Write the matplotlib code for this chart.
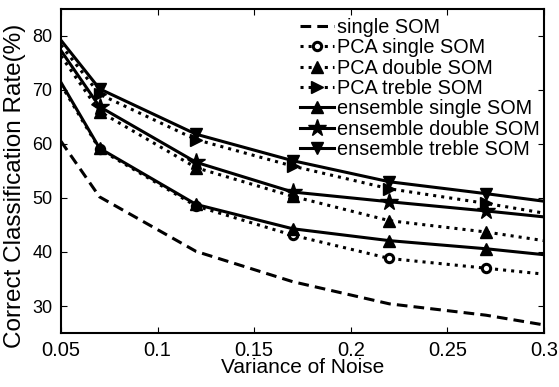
import matplotlib
matplotlib.use("Agg")
import matplotlib.pyplot as plt

plt.rcParams['font.family'] = ['Liberation Sans', 'DejaVu Sans']

# noise variance levels
x = [0.05, 0.07, 0.12, 0.17, 0.22, 0.27, 0.3]

single_som = [60.5, 50.2, 40.1, 34.5, 30.4, 28.3, 26.5]
pca_single = [71.0, 59.0, 48.5, 43.1, 38.8, 37.0, 35.9]
pca_double = [76.3, 66.0, 55.6, 50.3, 45.8, 43.7, 42.1]
pca_treble = [78.3, 69.2, 60.8, 55.9, 51.7, 49.0, 47.2]
ens_single = [71.4, 59.2, 48.8, 44.3, 42.1, 40.6, 39.5]
ens_double = [77.3, 66.9, 56.6, 51.1, 49.3, 47.6, 46.5]
ens_treble = [79.2, 70.2, 61.8, 56.9, 53.0, 50.8, 49.4]

fig = plt.figure(figsize=(5.59, 3.87), dpi=100)
ax = fig.add_axes([0.109, 0.1395, 0.864, 0.8375])

lw = 2.2
mk = dict(markevery=[1, 2, 3, 4, 5], color="black", linewidth=lw)
ax.plot(x, single_som, "--", color="black", linewidth=lw, dashes=(3.5, 2), label="single SOM")
ax.plot(x, pca_single, ":", marker="o", markersize=6, markerfacecolor="white",
        markeredgewidth=2.2, label="PCA single SOM", **mk)
ax.plot(x, pca_double, ":", marker="^", markersize=8, label="PCA double SOM", **mk)
ax.plot(x, pca_treble, ":", marker=">", markersize=9, label="PCA treble SOM", **mk)
ax.plot(x, ens_single, "-", marker="^", markersize=9, label="ensemble single SOM", **mk)
ax.plot(x, ens_double, "-", marker="*", markersize=13, label="ensemble double SOM", **mk)
ax.plot(x, ens_treble, "-", marker="v", markersize=9, label="ensemble treble SOM", **mk)

ax.set_xlim(0.05, 0.3)
ax.set_ylim(25, 85)
ax.set_xticks([0.05, 0.1, 0.15, 0.2, 0.25, 0.3])
ax.set_xticklabels(["0.05", "0.1", "0.15", "0.2", "0.25", "0.3"])
ax.set_yticks([30, 40, 50, 60, 70, 80])
ax.tick_params(direction="in", top=True, right=True, length=4, width=0.8)
ax.tick_params(axis="x", labelsize=14.5, pad=5.5)
ax.tick_params(axis="y", labelsize=13, pad=6)
for s in ax.spines.values():
    s.set_linewidth(1.5)

ax.set_xlabel("Variance of Noise", fontsize=15, labelpad=-1)
ax.set_ylabel("Correct Classification Rate(%)", fontsize=17.5)
ax.yaxis.set_label_coords(-0.072, 0.455)

ax.legend(loc="upper right", bbox_to_anchor=(1.0, 0.985), frameon=False,
          fontsize=14.3, handlelength=1.7, handletextpad=0.15,
          labelspacing=0.07, borderaxespad=0.1, borderpad=0.1)

fig.savefig("out.png", dpi=100)
